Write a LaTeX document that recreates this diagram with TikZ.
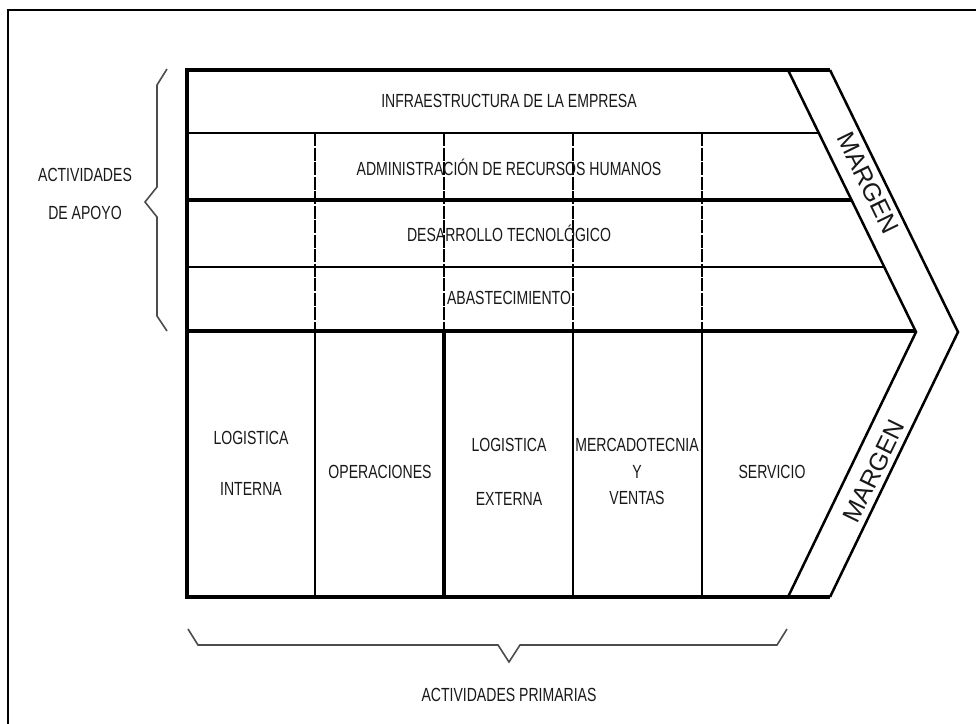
\documentclass[tikz,border=0pt]{standalone}
\usepackage{fontspec}
\setmainfont{Liberation Sans}[FakeStretch=0.74]
\newfontfamily\margenfont{Liberation Sans}
\usetikzlibrary{calc}
\begin{document}
\begin{tikzpicture}[x=1pt,y=-1pt,
  lbl/.style={font=\fontsize{19}{21}\selectfont, inner sep=0pt, text=black!90},
  mrg/.style={font=\margenfont\fontsize{25}{27}\selectfont, inner sep=0pt, text=black!90},
  heavy/.style={line width=3.8pt},
  light/.style={line width=2.3pt},
  chev/.style={line width=2.5pt, line join=miter},
  dashv/.style={line width=2.3pt, dash pattern=on 13pt off 1.5pt},
  bracestyle/.style={line width=1.6pt, draw=black!70, line join=miter},
  framestyle/.style={line width=1.7pt}]
\useasboundingbox (0,0) rectangle (976,723);
\clip (0,0) rectangle (976,723);
\fill[white] (0,0) rectangle (976,723);
% outer frame (clipped at right and bottom)
\draw[framestyle] (8,1000) -- (8,10) -- (1100,10);
% key coordinates
\coordinate (tl) at (187,70);
\coordinate (bl) at (187,597);
\coordinate (it) at (788,70);
\coordinate (ip) at (916,332);
\coordinate (ib) at (788,597);
\coordinate (ot) at (830,70);
\coordinate (op) at (958,332);
\coordinate (ob) at (830,597);
% chevron
\draw[chev] (it) -- (ip) -- (ib);
\draw[chev] (ot) -- (op) -- (ob);
% row separators
\coordinate (r1l) at (187,133); \coordinate (r1r) at (819,133);
\coordinate (r2l) at (187,200); \coordinate (r2r) at (851.5,200);
\coordinate (r3l) at (187,267); \coordinate (r3r) at (884,267);
\coordinate (r4l) at (187,331); \coordinate (r4r) at (916,331);
\draw[light] (r1l) -- (r1r);
\draw[heavy] (r2l) -- (r2r);
\draw[light] (r3l) -- (r3r);
\draw[heavy] (r4l) -- (r4r);
% support columns (dashed)
\foreach \x/\n in {315/a,444/b,573/c,702/d}{
  \coordinate (s\n t) at (\x,133);
  \coordinate (s\n b) at (\x,331);
  \draw[dashv] (s\n t) -- (s\n b);
}
% primary columns
\coordinate (pat) at (315,331); \coordinate (pab) at (315,597);
\coordinate (pbt) at (444,331); \coordinate (pbb) at (444,597);
\coordinate (pct) at (573,331); \coordinate (pcb) at (573,597);
\coordinate (pdt) at (702,331); \coordinate (pdb) at (702,597);
\draw[light] (pat) -- (pab);
\draw[heavy] (pbt) -- (pbb);
\draw[light] (pct) -- (pcb);
\draw[light] (pdt) -- (pdb);
% outer box
\draw[heavy, line join=miter] (ot) -- (tl) -- (bl) -- (ob);
% braces
\coordinate (b1) at (167,69); \coordinate (b2) at (157,85);
\coordinate (b3) at (157,187); \coordinate (b4) at (145,202);
\coordinate (b5) at (157,217); \coordinate (b6) at (157,316);
\coordinate (b7) at (167,331);
\draw[bracestyle] (b1) -- (b2) -- (b3) -- (b4) -- (b5) -- (b6) -- (b7);
\coordinate (c1) at (188,629); \coordinate (c2) at (198,645);
\coordinate (c3) at (498,645); \coordinate (c4) at (509,662);
\coordinate (c5) at (520,645); \coordinate (c6) at (777,645);
\coordinate (c7) at (787,629);
\draw[bracestyle] (c1) -- (c2) -- (c3) -- (c4) -- (c5) -- (c6) -- (c7);
% support labels
\node[lbl] (infra) at (509,101) {INFRAESTRUCTURA DE LA EMPRESA};
\node[lbl] (rrhh) at (509,167) {ADMINISTRACIÓN DE RECURSOS HUMANOS};
\node[lbl] (tec) at (509,233) {DESARROLLO TECNOLÓGICO};
\node[lbl] (abas) at (509,298) {ABASTECIMIENTO};
% primary labels
\node[lbl] (li1) at (251,438) {LOGISTICA};
\node[lbl] (li2) at (251,489) {INTERNA};
\node[lbl] (ope) at (380,472) {OPERACIONES};
\node[lbl] (le1) at (509,445) {LOGISTICA};
\node[lbl] (le2) at (509,499) {EXTERNA};
\node[lbl] (mv1) at (637,445) {MERCADOTECNIA};
\node[lbl] (mv2) at (637,472) {Y};
\node[lbl] (mv3) at (637,498) {VENTAS};
\node[lbl] (serv) at (772,472) {SERVICIO};
% side labels
\node[lbl] (act1) at (85,175) {ACTIVIDADES};
\node[lbl] (act2) at (85,213) {DE APOYO};
\node[lbl] (prim) at (509,695) {ACTIVIDADES PRIMARIAS};
% margin labels
\node[mrg, rotate=-64] (m1) at (868,183) {MARGEN};
\node[mrg, rotate=64] (m2) at (874,471) {MARGEN};
\end{tikzpicture}
\end{document}
